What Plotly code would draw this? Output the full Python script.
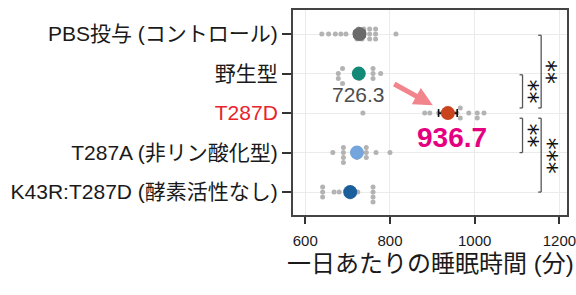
import plotly.graph_objects as go

# ---------------- data ----------------
categories = ["PBS投与 (コントロール)", "野生型", "T287D", "T287A (非リン酸化型)", "K43R:T287D (酵素活性なし)"]
label_colors = ["#1a1a1a", "#1a1a1a", "#e8232b", "#1a1a1a", "#1a1a1a"]
mean_colors = ["#6b6b6b", "#138a77", "#c9441c", "#74a5dc", "#1b5e9c"]

pbs_vals = [639, 655, 671, 684, 696, 718, 722, 726, 730, 734, 738, 752, 752, 752, 766, 766, 766, 814]
wt_vals = [678, 678, 688, 688, 722, 728, 734, 760, 760, 760, 778]
t287d_vals = [736, 882, 894, 915, 930, 945, 958, 966, 966, 986, 1006, 1006, 1022]
t287a_vals = [665, 690, 690, 690, 690, 712, 722, 732, 744, 744, 744, 767, 800]
k43r_vals = [641, 641, 641, 668, 680, 700, 706, 712, 724, 760, 760, 760, 760]
group_vals = [pbs_vals, wt_vals, t287d_vals, t287a_vals, k43r_vals]

means = [728.0, 726.3, 936.7, 722.0, 706.0]
sems = [12, 9, 22, 10, 9]

x_ticks = [600, 800, 1000, 1200]
x_title = "一日あたりの睡眠時間 (分)"

# significance comparisons: (group a, group b, label)
comparisons = [(0, 2, "**"), (1, 2, "**"), (2, 3, "**"), (2, 4, "***")]

# ---------------- layout constants ----------------
W, H = 576, 295
ML, MR, MT, MB = 293, 9, 10, 80
X_RANGE = [571, 1218]
Y_RANGE = [4.58, -0.61]
FONT = "Liberation Sans, Arial, Noto Sans CJK JP, sans-serif"

px_per_x = (W - ML - MR) / (X_RANGE[1] - X_RANGE[0])
px_per_y = (H - MT - MB) / (Y_RANGE[0] - Y_RANGE[1])


def swarm_offsets(vals, dot_px=5.0):
    """Deterministic beeswarm offsets (row units) so overlapping dots stack."""
    placed = []
    offs = [0.0] * len(vals)
    order = sorted(range(len(vals)), key=lambda i: vals[i])
    for i in order:
        xp = vals[i] * px_per_x
        k = 0
        while True:
            if k == 0:
                cand = 0.0
            else:
                cand = ((k + 1) // 2) * (1 if k % 2 else -1) * dot_px
            ok = all((xp - px) ** 2 + (cand - py) ** 2 >= (dot_px * 0.95) ** 2 for px, py in placed)
            if ok:
                placed.append((xp, cand))
                offs[i] = cand / px_per_y
                break
            k += 1
    return offs


fig = go.Figure()

# individual points
for gi, vals in enumerate(group_vals):
    offs = swarm_offsets(vals)
    fig.add_trace(go.Scatter(
        x=vals, y=[gi + o for o in offs], mode="markers",
        marker=dict(size=5, color="#b3b3b3", line=dict(width=0)),
        hoverinfo="x", showlegend=False))

# means with SEM error bars
for gi in range(len(categories)):
    fig.add_trace(go.Scatter(
        x=[means[gi]], y=[gi], mode="markers",
        marker=dict(size=14, color=mean_colors[gi], line=dict(width=0)),
        error_x=dict(type="data", array=[sems[gi]], color="#111111", thickness=1.6, width=4),
        showlegend=False))

# significance brackets
bracket_x = {1: 1113, 2: 1157}
tick_len = 7
for a, b, lab in comparisons:
    level = 1 if abs(a - b) == 1 else 2
    bx = bracket_x[level]
    ya = a + (0.13 if a == 2 else 0.03)
    yb = b - (0.13 if b == 2 else 0.0)
    for y0, y1, x0, x1 in [(ya, yb, bx, bx), (ya, ya, bx - tick_len, bx), (yb, yb, bx - tick_len, bx)]:
        fig.add_shape(type="line", x0=x0, x1=x1, y0=y0, y1=y1, xref="x", yref="y",
                      line=dict(color="#555555", width=1.3))
    fig.add_annotation(x=bx + 15, y=(ya + yb) / 2, text=lab, showarrow=False,
                       textangle=90, font=dict(family="DejaVu Sans", size=24, color="#111111"),
                       xanchor="center", yanchor="middle")

# value labels
fig.add_annotation(x=means[1], y=1.54, text=f"{means[1]:.1f}", showarrow=False,
                   font=dict(family=FONT, size=21, color="#4d4d4d"))
fig.add_annotation(x=946, y=2.62, text=f"<b>{means[2]:.1f}</b>", showarrow=False,
                   font=dict(family=FONT, size=28, color="#e5007f"))

# arrow
fig.add_annotation(x=901, y=1.8, ax=-40, ay=-22, text="", showarrow=True,
                   arrowhead=2, arrowsize=0.75, arrowwidth=5, arrowcolor="#f2848c", standoff=0)

# x-axis title
fig.add_annotation(x=0.5, y=-0.239, xref="paper", yref="paper", text=x_title, showarrow=False,
                   xanchor="center", yanchor="middle",
                   font=dict(family=FONT, size=24, color="#1a1a1a"))

ticktext = [f"<span style='color:{c}'>{t}</span>" for t, c in zip(categories, label_colors)]

fig.update_layout(
    width=W, height=H, margin=dict(l=ML, r=MR, t=MT, b=MB, autoexpand=False),
    paper_bgcolor="white", plot_bgcolor="white",
    font=dict(family=FONT, color="#1a1a1a"),
    xaxis=dict(range=X_RANGE, tickvals=x_ticks, ticks="outside", ticklen=7, tickwidth=1.6,
               tickcolor="#333333", showgrid=True, gridcolor="#ebebeb", gridwidth=1,
               zeroline=False, showline=True, linecolor="#444444", linewidth=2, mirror=True,
               tickfont=dict(size=15, color="#1a1a1a"), ticklabelstandoff=4,
               ticklabeloverflow="allow", automargin=False),
    yaxis=dict(range=Y_RANGE, tickvals=list(range(len(categories))), ticktext=ticktext,
               ticks="outside", ticklen=9, tickwidth=1.6, tickcolor="#333333",
               showgrid=True, gridcolor="#ebebeb", gridwidth=1, zeroline=False,
               showline=True, linecolor="#444444", linewidth=2, mirror=True,
               tickfont=dict(size=21, color="#1a1a1a"), automargin=False),
)

fig.write_html("out.html", config={"displayModeBar": False},
               post_script="document.body.style.margin='0';document.body.style.overflow='hidden';")
